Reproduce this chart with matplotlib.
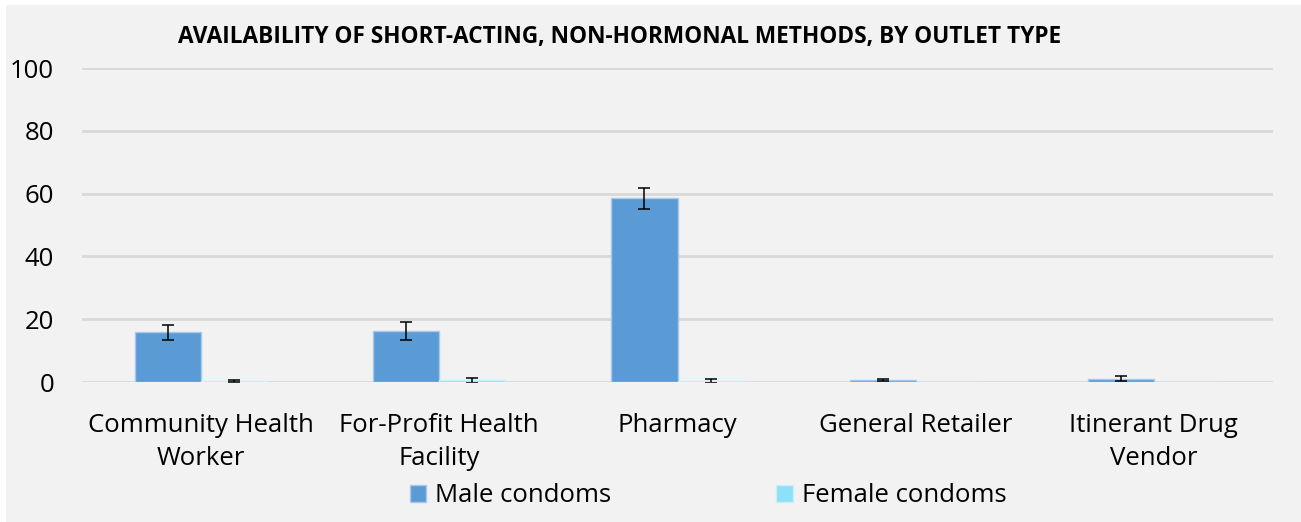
import matplotlib
matplotlib.use("Agg")
import matplotlib.pyplot as plt
from matplotlib.patches import Rectangle
import numpy as np

categories = ["Community Health\nWorker", "For-Profit Health\nFacility", "Pharmacy",
              "General Retailer", "Itinerant Drug\nVendor"]
male = [15.8, 16.3, 58.5, 0.7, 1.1]
male_err = [2.4, 2.8, 3.3, 0.3, 0.9]
female = [0.3, 0.6, 0.4, 0.05, 0.05]
female_err = [0.4, 0.8, 0.7, 0.0, 0.0]
yticks = [0, 20, 40, 60, 80, 100]
title = "AVAILABILITY OF SHORT-ACTING, NON-HORMONAL METHODS, BY OUTLET TYPE"

plt.rcParams['font.family'] = ['Open Sans', 'DejaVu Sans']

bg = "#F2F2F2"
fig = plt.figure(figsize=(13.01, 5.22), dpi=100, facecolor="white")
fig.patches.append(Rectangle((6/1301, 0), 1 - 6/1301, 1 - 5/522, transform=fig.transFigure,
                             facecolor=bg, edgecolor="none", zorder=-10))
ax = fig.add_axes([82/1301, (522-382)/522, (1273-82)/1301, (382-68)/522])
ax.set_facecolor(bg)

x = np.arange(len(categories))
w = 66/238
ax.bar(x - w/2, male, w, color="#5B9BD5", edgecolor="#A9C8EA", linewidth=1,
       label="Male condoms", zorder=3)
ax.bar(x + w/2, female, w, color="#8EDFFA", edgecolor="#C8EEF8", linewidth=1,
       label="Female condoms", zorder=3)
ax.errorbar(x - w/2, male, yerr=male_err, fmt="none", ecolor="black", elinewidth=1.1,
            capsize=4.5, capthick=1.1, zorder=4)
ax.errorbar(x + w/2, female, yerr=female_err, fmt="none",
            ecolor="black", elinewidth=1.1, capsize=4.5, capthick=1.1, zorder=4,
            errorevery=[e > 0 for e in female_err])

ax.set_xlim(-0.5, len(categories) - 0.5)
ax.set_ylim(0, 100)
ax.set_yticks(yticks)
ax.yaxis.grid(True, color="#D9D9D9", linewidth=2, zorder=0)
ax.set_axisbelow(True)
for s in ax.spines.values():
    s.set_visible(False)
ax.tick_params(axis="both", length=0, labelsize=18.5, colors="black")
ax.tick_params(axis="y", pad=20)
ax.tick_params(axis="x", pad=22)
ax.set_xticks(x)
ax.set_xticklabels(categories, linespacing=1.42)

fig.text(619.5/1301, 1 - 37/522, title, ha="center", va="center", fontsize=16.3,
         fontweight="bold")

leg = fig.legend(loc="center", bbox_to_anchor=(708/1301, 1 - 496/522), ncol=2,
                 frameon=False, fontsize=18.5, handlelength=0.65, handleheight=0.65,
                 handletextpad=0.35, columnspacing=6.4)

fig.savefig("out.png", dpi=100, facecolor=fig.get_facecolor())
